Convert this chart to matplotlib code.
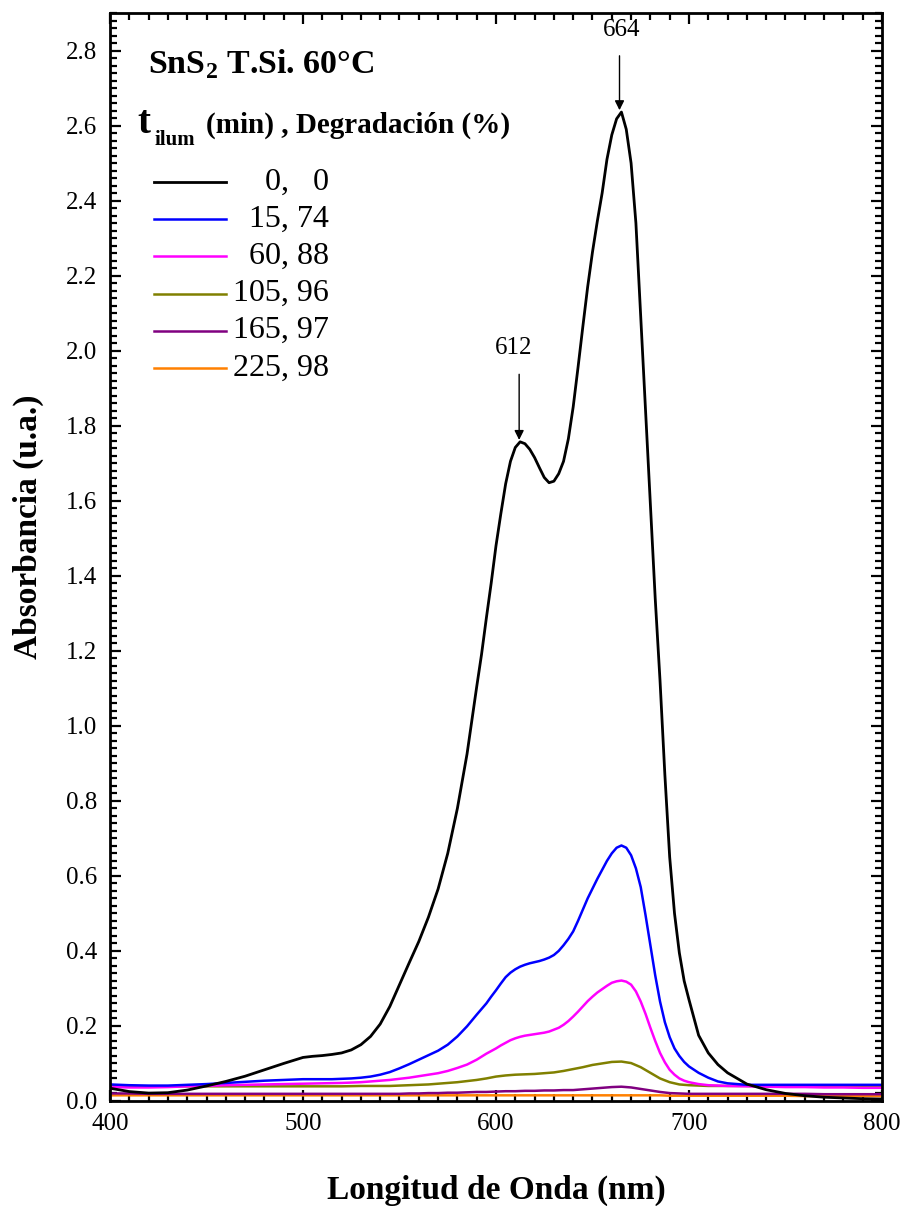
import numpy as np
import matplotlib.pyplot as plt
from matplotlib.ticker import MultipleLocator

plt.rcParams['font.family'] = ['Liberation Serif', 'DejaVu Serif']
plt.rcParams['mathtext.fontset'] = 'custom'
plt.rcParams['mathtext.rm'] = 'Liberation Serif'
plt.rcParams['mathtext.bf'] = 'Liberation Serif:bold'

# fine wavelength grid (nm) for the three strongest spectra
wl_fine = [400, 410, 420, 430, 440, 450, 460, 470, 480, 490, 500,
           505, 510, 515, 520, 525, 530, 535, 540, 545, 550, 555, 560, 565, 570, 575, 580, 585,
           590, 592.5, 595, 597.5, 600, 602.5, 605, 607.5, 610, 612.5, 615, 617.5, 620, 622.5,
           625, 627.5, 630, 632.5, 635, 637.5, 640, 642.5, 645, 647.5, 650, 652.5, 655, 657.5,
           660, 662.5, 665, 667.5, 670, 672.5, 675, 677.5, 680, 682.5, 685, 687.5, 690, 692.5,
           695, 697.5, 700,
           705, 710, 715, 720,
           730, 740, 750, 760, 770, 780, 790, 800]

abs_0 = [0.034, 0.025, 0.021, 0.022, 0.029, 0.040, 0.052, 0.066, 0.083, 0.100, 0.116,
         0.119, 0.121, 0.124, 0.128, 0.136, 0.150, 0.172, 0.205, 0.252, 0.310, 0.368, 0.425, 0.490, 0.565, 0.660, 0.780, 0.925,
         1.104, 1.190, 1.287, 1.380, 1.480, 1.565, 1.645, 1.705, 1.742, 1.757, 1.752, 1.737, 1.715, 1.688,
         1.662, 1.648, 1.652, 1.672, 1.705, 1.765, 1.850, 1.955, 2.064, 2.170, 2.263, 2.345, 2.420, 2.510,
         2.575, 2.618, 2.636, 2.590, 2.500, 2.340, 2.090, 1.840, 1.590, 1.340, 1.120, 0.870, 0.650, 0.500,
         0.395, 0.320, 0.270,
         0.175, 0.128, 0.097, 0.075,
         0.045, 0.030, 0.020, 0.014, 0.010, 0.008, 0.006, 0.005]

abs_15 = [0.044, 0.042, 0.041, 0.041, 0.043, 0.045, 0.048, 0.051, 0.054, 0.056, 0.058,
          0.058, 0.058, 0.058, 0.059, 0.060, 0.062, 0.065, 0.070, 0.077, 0.087, 0.098, 0.110, 0.122, 0.134, 0.150, 0.172, 0.199,
          0.230, 0.245, 0.260, 0.278, 0.295, 0.313, 0.330, 0.342, 0.351, 0.358, 0.363, 0.367, 0.370, 0.373,
          0.377, 0.382, 0.389, 0.400, 0.415, 0.432, 0.452, 0.480, 0.510, 0.540, 0.566, 0.592, 0.616, 0.640,
          0.660, 0.675, 0.681, 0.675, 0.655, 0.620, 0.570, 0.495, 0.415, 0.335, 0.265, 0.210, 0.170, 0.140,
          0.120, 0.104, 0.092,
          0.075, 0.062, 0.052, 0.047,
          0.043, 0.043, 0.043, 0.043, 0.043, 0.043, 0.043, 0.043]

abs_60 = [0.037, 0.036, 0.036, 0.037, 0.039, 0.040, 0.042, 0.043, 0.044, 0.045, 0.046,
          0.0465, 0.047, 0.0475, 0.048, 0.049, 0.050, 0.052, 0.054, 0.056, 0.059, 0.062, 0.066, 0.070, 0.074, 0.080, 0.088, 0.097,
          0.110, 0.118, 0.126, 0.133, 0.140, 0.148, 0.155, 0.162, 0.167, 0.171, 0.174, 0.176, 0.178, 0.180,
          0.182, 0.185, 0.190, 0.195, 0.203, 0.213, 0.225, 0.238, 0.252, 0.266, 0.278, 0.289, 0.298, 0.307,
          0.315, 0.319, 0.321, 0.318, 0.310, 0.292, 0.265, 0.232, 0.195, 0.160, 0.128, 0.103, 0.083, 0.070,
          0.060, 0.054, 0.050,
          0.045, 0.042, 0.041, 0.040,
          0.039, 0.038, 0.037, 0.037, 0.036, 0.036, 0.035, 0.035]

# coarser grid for the weak, nearly flat spectra
wl = [400, 410, 420, 430, 440, 450, 460, 470, 480, 490, 500, 510, 520, 530,
      540, 545, 550, 555, 560, 565, 570, 575, 580, 585, 590, 595, 600, 605,
      610, 615, 620, 625, 630, 635, 640, 645, 650, 655, 660, 665, 670, 675,
      680, 685, 690, 695, 700, 705, 710, 715, 720,
      730, 740, 750, 760, 770, 780, 790, 800]

abs_105 = [0.040, 0.039, 0.039, 0.039, 0.039, 0.039, 0.039, 0.039, 0.039, 0.039, 0.039, 0.039, 0.039, 0.040,
           0.040, 0.040, 0.041, 0.042, 0.043, 0.044, 0.046, 0.048, 0.050, 0.053, 0.056, 0.060, 0.065, 0.068,
           0.070, 0.071, 0.072, 0.074, 0.076, 0.080, 0.085, 0.090, 0.096, 0.100, 0.104, 0.105, 0.101, 0.090,
           0.075, 0.060, 0.050, 0.044, 0.042, 0.041, 0.040, 0.040, 0.040,
           0.040, 0.040, 0.040, 0.040, 0.040, 0.040, 0.040, 0.040]

abs_165 = [0.020, 0.020, 0.019, 0.019, 0.019, 0.019, 0.019, 0.019, 0.019, 0.019, 0.019, 0.019, 0.019, 0.019,
           0.019, 0.019, 0.019, 0.020, 0.020, 0.021, 0.021, 0.022, 0.022, 0.023, 0.024, 0.024, 0.025, 0.026,
           0.026, 0.027, 0.027, 0.028, 0.028, 0.029, 0.029, 0.031, 0.033, 0.035, 0.037, 0.038, 0.036, 0.032,
           0.028, 0.024, 0.021, 0.020, 0.019, 0.019, 0.019, 0.019, 0.019,
           0.019, 0.019, 0.019, 0.019, 0.018, 0.018, 0.018, 0.018]

abs_225 = [0.015, 0.015, 0.015, 0.015, 0.015, 0.015, 0.015, 0.015, 0.015, 0.015, 0.015, 0.015, 0.015, 0.015,
           0.015, 0.015, 0.015, 0.015, 0.015, 0.015, 0.015, 0.015, 0.015, 0.015, 0.015, 0.015, 0.015, 0.015,
           0.015, 0.015, 0.015, 0.015, 0.015, 0.015, 0.015, 0.015, 0.015, 0.015, 0.015, 0.015, 0.015, 0.015,
           0.015, 0.015, 0.014, 0.014, 0.014, 0.014, 0.014, 0.014, 0.014,
           0.014, 0.014, 0.014, 0.013, 0.013, 0.013, 0.013, 0.013]

series = [(wl_fine, abs_0), (wl_fine, abs_15), (wl_fine, abs_60),
          (wl, abs_105), (wl, abs_165), (wl, abs_225)]
labels = ["0,   0", "15, 74", "60, 88", "105, 96", "165, 97", "225, 98"]
colors = ["black", "#0000ff", "#ff00ff", "#808000", "#800080", "#ff8000"]
widths = [2.0, 1.8, 1.8, 1.8, 1.8, 1.8]

peaks = [612, 664]
peak_abs = [1.757, 2.636]

fig = plt.figure(figsize=(9.07, 12.06), dpi=100)
ax = fig.add_axes([0.1213, 0.0871, 0.8511, 0.9021])

# draw from the last spectrum to the first so the black one sits on top
for (x, y), c, lw in reversed(list(zip(series, colors, widths))):
    ax.plot(x, y, color=c, lw=lw, solid_joinstyle='round')

ax.set_xlim(400, 800)
ax.set_ylim(0, 2.9)
ax.xaxis.set_major_locator(MultipleLocator(100))
ax.xaxis.set_minor_locator(MultipleLocator(10))
ax.yaxis.set_major_locator(MultipleLocator(0.2))
ax.yaxis.set_minor_locator(MultipleLocator(0.02))
ax.yaxis.set_major_formatter(plt.FormatStrFormatter('%.1f'))
ax.tick_params(which='both', direction='in', top=True, right=True, width=1.6)
ax.tick_params(which='major', length=8, labelsize=18, pad=9)
ax.tick_params(which='minor', length=5)
for s in ax.spines.values():
    s.set_linewidth(2.0)

ax.set_xlabel("Longitud de Onda (nm)", fontsize=24, fontweight='bold', labelpad=28)
ax.set_ylabel("Absorbancia (u.a.)", fontsize=24, fontweight='bold')
ax.yaxis.set_label_coords(-0.086, 0.5276)

# peak markers
offsets = [0.18, 0.15]
for xp, yp, off in zip(peaks, peak_abs, offsets):
    ax.annotate("", xy=(xp, yp + 0.005), xytext=(xp, yp + off),
                arrowprops=dict(arrowstyle='-|>', color='black', lw=1.0,
                                mutation_scale=14, shrinkA=0, shrinkB=0))
    ax.text(xp - 3 if xp == 612 else xp + 1, yp + off + 0.04, str(xp),
            fontsize=18, ha='center', va='bottom')

ax.text(0.0492, 0.9449, r"SnS$_\mathbf{2}$ T.Si. 60°C", transform=ax.transAxes,
        fontsize=24.5, fontweight='bold')
ax.text(0.035, 0.8897, "t", transform=ax.transAxes, fontsize=28, fontweight='bold')
ax.text(0.0583, 0.8790, "ilum", transform=ax.transAxes, fontsize=15, fontweight='bold')
ax.text(0.1244, 0.8897, "(min) , Degradación (%)", transform=ax.transAxes,
        fontsize=21, fontweight='bold')

# legend rows: sample line and right-aligned label
for i, (lab, c, lw) in enumerate(zip(labels, colors, widths)):
    ya = 0.8447 - i * 0.0342
    ax.plot([0.057, 0.150], [ya, ya], color=c, lw=lw, transform=ax.transAxes)
    ax.text(0.2837, ya, lab, transform=ax.transAxes, fontsize=23,
            ha='right', va='center')

fig.savefig("out.png", dpi=100)
